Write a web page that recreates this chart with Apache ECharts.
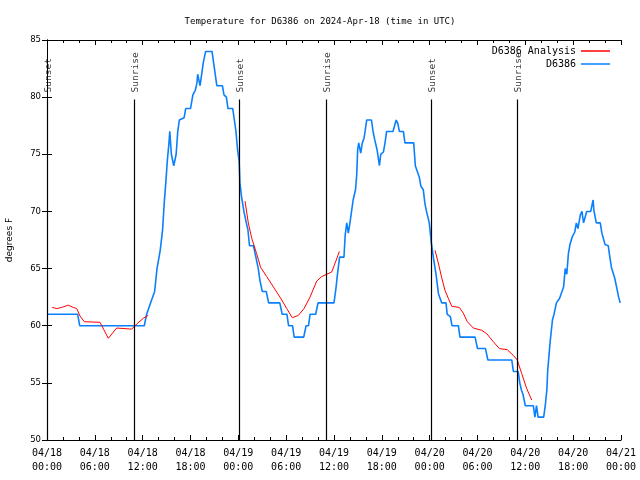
<!DOCTYPE html>
<html><head><meta charset="utf-8">
<script src="https://cdn.jsdelivr.net/npm/echarts@6/dist/echarts.min.js"></script>
<style>html,body{margin:0;padding:0;background:#fff}#c{width:640px;height:480px}</style>
</head><body><div id="c"></div>
<script>
const chartTitle = 'Temperature for D6386 on 2024-Apr-18 (time in UTC)';
const yAxisName = 'degrees F';
const tickDates = ['04/18','04/18','04/18','04/18','04/19','04/19','04/19','04/19','04/20','04/20','04/20','04/20','04/21'];
const tickTimes = ['00:00','06:00','12:00','18:00','00:00','06:00','12:00','18:00','00:00','06:00','12:00','18:00','00:00'];
const sunEventNames = ['Sunset','Sunrise','Sunset','Sunrise','Sunset','Sunrise'];
const sunEventHours = [0.05, 10.95, 24.1, 35.08, 48.25, 59.0];
const sunLineTop = 79.8;

// hours since 04/18 00:00 UTC, degrees F
const analysisSeries = [
 [0.66,61.6],[1.22,61.5],[1.84,61.6],[2.67,61.8],[3.3,61.6],[3.73,61.5],[4.14,60.85],[4.68,60.35],[6.65,60.3],[7.69,58.9],[8.74,59.8],[10.62,59.7],[11.25,60.15],[12.08,60.65],[12.7,60.9],
 null,
 [24.84,70.9],[25.25,69],[25.68,67.65],[26.3,66.3],[26.8,65.1],[27.56,64.3],[28.39,63.4],[29.23,62.5],[30.07,61.5],[30.77,60.7],[31.52,60.9],[32.24,61.5],[32.99,62.5],[33.83,63.9],[34.46,64.3],[35.09,64.5],[35.71,64.7],[36.04,65.3],[36.34,65.85],[36.67,66.5],
 null,
 [48.67,66.6],[49.08,65.5],[49.51,64.2],[49.92,63.1],[50.34,62.4],[50.77,61.7],[51.72,61.6],[52.22,61.1],[52.72,60.35],[53.48,59.8],[54.53,59.6],[55.16,59.3],[55.98,58.6],[56.74,58.0],[57.74,57.9],[58.49,57.4],[58.99,57.0],[59.55,55.8],[60.17,54.5],[60.8,53.5]
];
const stationSeries = [
 [0,61],[3.85,61],[4.1,60],[12.2,60],[12.5,61],[13.0,62],[13.5,63],[13.8,65],[14.2,66.6],[14.5,68.4],[14.7,70.7],[14.9,72.5],[15.1,74.5],[15.3,76],[15.4,77],[15.6,75],[15.9,74],[16.2,75],[16.4,77],[16.6,78],[17.2,78.2],[17.4,79],[18.0,79],[18.3,80.2],[18.6,80.6],[18.8,81.2],[18.9,82],[19.2,81],[19.4,82],[19.6,83],[19.9,84],[20.7,84],[20.9,83],[21.3,81],[22.0,81],[22.2,80.2],[22.5,80],[22.7,79],[23.3,79],[23.5,78],[23.7,77],[23.9,75.4],[24.1,74.4],[24.2,72.5],[24.4,71.3],[24.7,70],[25.0,69],[25.2,68.4],[25.4,67],[25.9,67],[26.2,66],[26.5,65],[26.7,64],[27.0,63],[27.5,63],[27.8,62],[29.2,62],[29.5,61],[30.1,61],[30.3,60],[30.8,60],[31.0,59],[32.2,59],[32.5,60],[32.8,60],[33.0,61],[33.7,61],[34.0,62],[36.0,62],[36.25,63.3],[36.4,64.3],[36.7,66],[37.25,66],[37.4,67.9],[37.6,69],[37.8,68.1],[38.0,69],[38.2,70],[38.4,71],[38.7,71.9],[38.85,73.2],[38.97,75.4],[39.1,76],[39.35,75.1],[39.55,76],[39.76,76.4],[39.9,77],[40.1,78],[40.7,78],[40.9,77],[41.1,76.3],[41.4,75.4],[41.7,74],[41.86,75],[42.2,75.2],[42.4,76],[42.6,77],[43.4,77],[43.8,78],[44.0,77.7],[44.2,77],[44.7,77],[44.9,76],[46.0,76],[46.2,74],[46.4,74],[46.7,73],[46.9,72.2],[47.2,71.9],[47.4,70.7],[47.6,70],[47.95,69],[48.2,67.3],[48.5,65.8],[48.8,64.5],[49.1,62.8],[49.5,62],[50.05,62],[50.2,61],[50.6,60.8],[50.8,60],[51.6,60],[51.8,59],[53.7,59],[54.0,58],[55.0,58],[55.3,57],[58.3,57],[58.5,56],[59.1,56],[59.3,55],[59.5,54.4],[59.7,54],[60.0,53],[61.0,53],[61.2,52],[61.4,53],[61.6,52],[62.3,52],[62.5,53],[62.7,54.4],[62.8,56],[63.1,58.5],[63.4,60.5],[63.6,61],[63.9,62],[64.3,62.4],[64.6,63],[64.8,63.4],[65.0,65],[65.2,64.5],[65.4,66.3],[65.6,67.1],[65.9,67.8],[66.2,68.2],[66.4,69],[66.6,68.5],[66.9,69.7],[67.1,70],[67.3,69],[67.5,69],[67.7,70],[68.2,70],[68.5,71],[68.6,70.1],[68.9,69],[69.4,69],[69.6,68.1],[69.8,68],[70.0,67.1],[70.4,67],[70.6,66],[70.8,65.1],[71.0,65],[71.2,64.2],[71.5,63.2],[71.7,62.5],[71.9,62]
];

const mono = 'DejaVu Sans Mono';
const sans = 'DejaVu Sans';
const chart = echarts.init(document.getElementById('c'), null, {renderer:'canvas'});
const axisLineStyle = {show:true, lineStyle:{color:'#000', width:1}};
const xAxisCommon = {
  type:'value', min:0, max:72, interval:6,
  axisLine: axisLineStyle,
  axisTick:{show:true, inside:true, length:5, lineStyle:{color:'#000'}},
  minorTick:{show:true, splitNumber:3, length:3, lineStyle:{color:'#000'}},
  splitLine:{show:false}, minorSplitLine:{show:false}
};
const yAxisCommon = {
  type:'value', min:50, max:85, interval:5,
  axisLine: axisLineStyle,
  axisTick:{show:true, inside:true, length:5, lineStyle:{color:'#000'}},
  splitLine:{show:false}
};
chart.setOption({
  animation:false,
  backgroundColor:'#fff',
  title:{text:chartTitle, left:'center', top:12, textStyle:{fontFamily:mono, fontSize:9, fontWeight:'normal', color:'#000'}},
  legend:{data:['D6386 Analysis','D6386'], orient:'vertical', align:'right', right:25, top:40,
    icon:'rect', itemWidth:29, itemHeight:1.5, itemGap:1,
    textStyle:{fontFamily:mono, fontSize:10, color:'#000', lineHeight:12}},
  grid:{left:47, right:19, top:40, bottom:40, containLabel:false, outerBoundsMode:'none'},
  xAxis:[
    Object.assign({}, xAxisCommon, {position:'bottom', axisLabel:{show:true, margin:6, fontFamily:mono, fontSize:10, color:'#000', lineHeight:14,
      formatter:function(v){const i=Math.round(v/6); return tickDates[i]+'\n'+tickTimes[i];}}}),
    Object.assign({}, xAxisCommon, {position:'top', axisLabel:{show:false}})
  ],
  yAxis:[
    Object.assign({}, yAxisCommon, {position:'left', name:yAxisName, nameLocation:'middle', nameGap:33,
      nameTextStyle:{fontFamily:sans, fontSize:9, color:'#000'},
      axisLabel:{show:true, margin:6, fontFamily:sans, fontSize:8.5, color:'#000'}}),
    Object.assign({}, yAxisCommon, {position:'right', axisLabel:{show:false}})
  ],
  series:[
    {name:'D6386', type:'line', data:stationSeries, symbol:'none', connectNulls:false,
      lineStyle:{color:'#0a80ff', width:1.6}, itemStyle:{color:'#0a80ff'}, z:2},
    {name:'D6386 Analysis', type:'line', data:analysisSeries, symbol:'none', connectNulls:false,
      lineStyle:{color:'#ff0000', width:1}, itemStyle:{color:'#ff0000'}, z:3},
    {name:'sun', type:'line', data:[], symbol:'none',
      markLine:{silent:true, symbol:['none','none'], label:{show:false},
        lineStyle:{color:'#000', width:1.2, type:'solid'},
        data: sunEventHours.map(h => [{coord:[h,50]},{coord:[h,sunLineTop]}])}},
    {name:'sunLabels', type:'scatter', symbolSize:0, silent:true,
      data: sunEventHours.map((h,i) => [h, sunLineTop, sunEventNames[i]]),
      label:{show:true, rotate:90, position:[1,-7], align:'left', verticalAlign:'middle',
        fontFamily:mono, fontSize:9.5, color:'#000', formatter:p=>p.data[2]}}
  ]
});
</script></body></html>
